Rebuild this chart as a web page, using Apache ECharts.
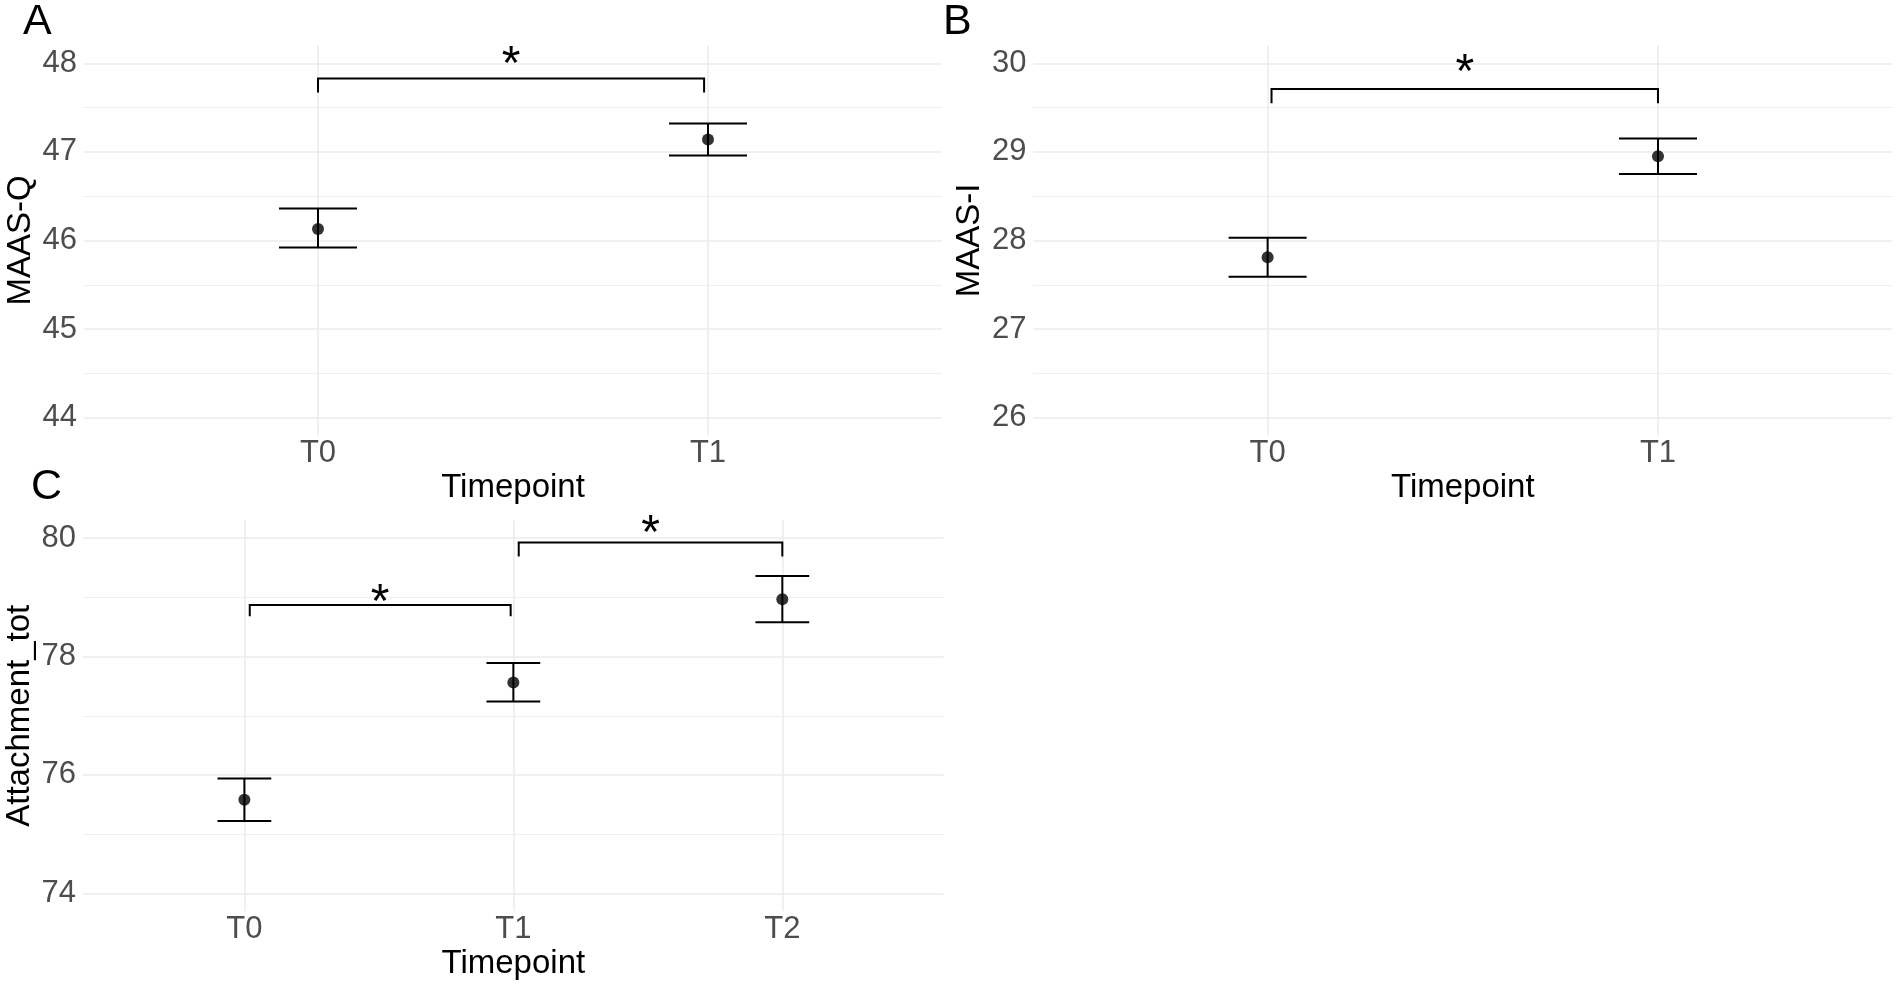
<!DOCTYPE html>
<html>
<head>
<meta charset="utf-8">
<script src="https://cdn.jsdelivr.net/npm/echarts@6/dist/echarts.min.js"></script>
<style>
  html, body { margin: 0; padding: 0; background: #fff; }
  #chart { width: 1902px; height: 990px; }
</style>
</head>
<body>
<div id="chart"></div>
<script>
var FONT = '"Liberation Sans", Arial, Helvetica, sans-serif';

// categories
var timepointsAB = ['T0', 'T1'];
var timepointsC = ['T0', 'T1', 'T2'];

// A: MAAS-Q
var maasQMean = [46.13, 47.14];
var maasQLow = [45.92, 46.96];
var maasQHigh = [46.36, 47.32];
var maasQRange = [43.8, 48.2];
var maasQTicks = [44, 45, 46, 47, 48];
var maasQMinor = [44.5, 45.5, 46.5, 47.5];
// [from, to, bracket top, bracket foot, star]
var maasQSig = [[1, 1.99, 47.83, 47.67, 48.085]];

// B: MAAS-I
var maasIMean = [27.81, 28.95];
var maasILow = [27.59, 28.75];
var maasIHigh = [28.03, 29.15];
var maasIRange = [25.8, 30.2];
var maasITicks = [26, 27, 28, 29, 30];
var maasIMinor = [26.5, 27.5, 28.5, 29.5];
var maasISig = [[1.01, 2, 29.71, 29.55, 30.0]];

// C: Attachment_tot
var attachMean = [75.58, 77.56, 78.97];
var attachLow = [75.22, 77.24, 78.58];
var attachHigh = [75.94, 77.89, 79.36];
var attachRange = [73.7, 80.3];
var attachTicks = [74, 76, 78, 80];
var attachMinor = [75, 77, 79];
var attachSig = [[1.02, 1.99, 78.87, 78.68, 79.07], [2.02, 3, 79.93, 79.69, 80.22]];

var myChart = echarts.init(document.getElementById('chart'));

function positions(cats) {
  return cats.map(function (c, i) { return i + 1; });
}

function xAxisFor(gi, cats) {
  return {
    type: 'value', gridIndex: gi,
    min: 0.4, max: cats.length + 0.6,
    name: 'Timepoint', nameLocation: 'middle', nameGap: 36,
    nameTextStyle: { fontSize: 33, color: '#000', fontFamily: FONT },
    axisLine: { show: false },
    axisTick: { show: false, customValues: positions(cats) },
    axisLabel: {
      customValues: positions(cats),
      formatter: function (v) { return cats[Math.round(v) - 1]; },
      fontSize: 31, color: '#4D4D4D', fontFamily: FONT, margin: 3
    },
    splitLine: { show: true, lineStyle: { color: '#EBEBEB', width: 1.5 } }
  };
}

function yAxisFor(gi, range, ticks, name) {
  return {
    type: 'value', gridIndex: gi,
    min: range[0], max: range[1],
    name: name, nameLocation: 'middle', nameGap: 47,
    nameTextStyle: { fontSize: 33, color: '#000', fontFamily: FONT },
    axisLine: { show: false },
    axisTick: { show: false, customValues: ticks },
    axisLabel: { customValues: ticks, fontSize: 31, color: '#4D4D4D', fontFamily: FONT, margin: 7 },
    splitLine: { show: true, lineStyle: { color: '#EBEBEB', width: 1.5 } }
  };
}

// second, hidden y axis only for the thinner minor grid lines
function minorAxisFor(gi, range, ticks) {
  return {
    type: 'value', gridIndex: gi, position: 'left',
    min: range[0], max: range[1],
    axisLine: { show: false },
    axisTick: { show: false, customValues: ticks },
    axisLabel: { show: false, customValues: ticks },
    splitLine: { show: true, lineStyle: { color: '#EFEFEF', width: 1 } }
  };
}

function pointSeries(ai, mean) {
  return {
    type: 'scatter', xAxisIndex: ai, yAxisIndex: ai * 2,
    symbol: 'circle', symbolSize: 12, z: 5,
    itemStyle: { color: '#000' },
    data: mean.map(function (m, i) { return [i + 1, m]; })
  };
}

function errorSeries(ai, low, high) {
  return {
    type: 'custom', xAxisIndex: ai, yAxisIndex: ai * 2, z: 4,
    encode: { x: 0, y: [1, 2] },
    data: low.map(function (l, i) { return [i + 1, l, high[i]]; }),
    renderItem: function (params, api) {
      var x = api.value(0);
      var lo = api.coord([x, api.value(1)]);
      var hi = api.coord([x, api.value(2)]);
      var hw = api.size([0.1, 0])[0];
      var st = { stroke: '#000', lineWidth: 2 };
      return {
        type: 'group',
        children: [
          { type: 'line', shape: { x1: lo[0], y1: lo[1], x2: hi[0], y2: hi[1] }, style: st },
          { type: 'line', shape: { x1: hi[0] - hw, y1: hi[1], x2: hi[0] + hw, y2: hi[1] }, style: st },
          { type: 'line', shape: { x1: lo[0] - hw, y1: lo[1], x2: lo[0] + hw, y2: lo[1] }, style: st }
        ]
      };
    }
  };
}

function sigSeries(ai, sig) {
  return {
    type: 'custom', xAxisIndex: ai, yAxisIndex: ai * 2, z: 4,
    encode: { x: [0, 1], y: [2, 3, 4] },
    data: sig,
    renderItem: function (params, api) {
      var a = api.coord([api.value(0), api.value(3)]);
      var b = api.coord([api.value(0), api.value(2)]);
      var c = api.coord([api.value(1), api.value(2)]);
      var d = api.coord([api.value(1), api.value(3)]);
      var s = api.coord([(api.value(0) + api.value(1)) / 2, api.value(4)]);
      return {
        type: 'group',
        children: [
          { type: 'polyline', shape: { points: [a, b, c, d] },
            style: { stroke: '#000', lineWidth: 2, fill: null } },
          { type: 'text', x: s[0], y: s[1] + 10,
            style: { text: '*', fontSize: 48, fontFamily: FONT, fill: '#000',
                     align: 'center', verticalAlign: 'middle' } }
        ]
      };
    }
  };
}

function letter(t, x, y) {
  return {
    type: 'text', x: x, y: y,
    style: { text: t, fontSize: 43, fontFamily: FONT, fill: '#000', align: 'left', verticalAlign: 'middle' }
  };
}

var option = {
  animation: false,
  backgroundColor: '#fff',
  textStyle: { fontFamily: FONT },
  graphic: [letter('A', 23, 22.5), letter('B', 943, 22.5), letter('C', 31, 487.5)],
  grid: [
    { left: 84, top: 45.6, width: 858, height: 389.8, containLabel: false, outerBoundsMode: 'none' },
    { left: 1033.4, top: 45.6, width: 858.8, height: 389.8, containLabel: false, outerBoundsMode: 'none' },
    { left: 83, top: 520.5, width: 860.7, height: 390.5, containLabel: false, outerBoundsMode: 'none' }
  ],
  xAxis: [
    xAxisFor(0, timepointsAB),
    xAxisFor(1, timepointsAB),
    xAxisFor(2, timepointsC)
  ],
  yAxis: [
    yAxisFor(0, maasQRange, maasQTicks, 'MAAS-Q'),
    minorAxisFor(0, maasQRange, maasQMinor),
    yAxisFor(1, maasIRange, maasITicks, 'MAAS-I'),
    minorAxisFor(1, maasIRange, maasIMinor),
    yAxisFor(2, attachRange, attachTicks, 'Attachment_tot'),
    minorAxisFor(2, attachRange, attachMinor)
  ],
  series: [
    errorSeries(0, maasQLow, maasQHigh),
    pointSeries(0, maasQMean),
    sigSeries(0, maasQSig),
    errorSeries(1, maasILow, maasIHigh),
    pointSeries(1, maasIMean),
    sigSeries(1, maasISig),
    errorSeries(2, attachLow, attachHigh),
    pointSeries(2, attachMean),
    sigSeries(2, attachSig)
  ]
};

myChart.setOption(option);
</script>
</body>
</html>
